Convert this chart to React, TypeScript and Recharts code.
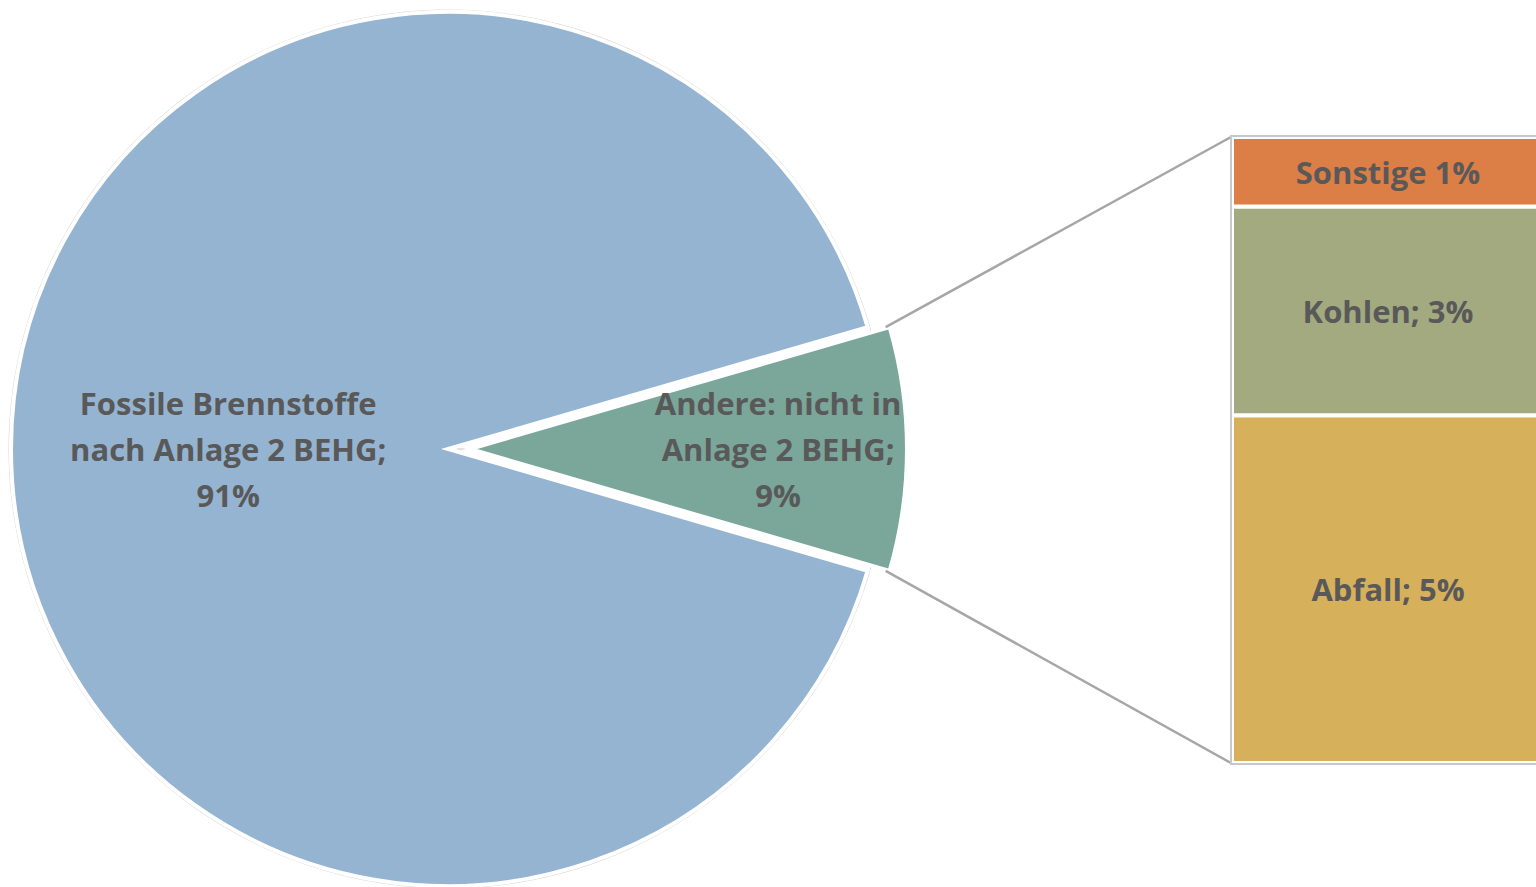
import React from 'react';
import { PieChart, Pie, Cell, BarChart, Bar, XAxis, YAxis, LabelList } from 'recharts';

const pieCategories = ['Fossile Brennstoffe nach Anlage 2 BEHG', 'Andere: nicht in Anlage 2 BEHG'];
const pieValues = [91, 9];
const pieLabelLines = [
  ['Fossile Brennstoffe', 'nach Anlage 2 BEHG;', '91%'],
  ['Andere: nicht in', 'Anlage 2 BEHG;', '9%'],
];
const pieColors = ['#95B4D1', '#7AA79A'];

const barCategories = ['Abfall', 'Kohlen', 'Sonstige'];
const barValues = [5, 3, 1];
const barLabels = ['Abfall; 5%', 'Kohlen; 3%', 'Sonstige 1%'];
const barColors = ['#D7B05C', '#A3AA7F', '#DC7F47'];

const pieData = pieCategories.map((name, i) => ({ name, value: pieValues[i] }));
const barRow: Record<string, number | string> = { name: 'Andere' };
barCategories.forEach((c, i) => { barRow[c] = barValues[i]; });
const barData = [barRow];
const barTotal = barValues.reduce((a, b) => a + b, 0);
const pieTotal = pieValues.reduce((a, b) => a + b, 0);

const W = 1536;
const H = 887;
const CX = 448;
const CY = 449;
const R = 437;
const EXPLODE = 22;
const HALF = (pieValues[1] / pieTotal) * 180;
const START = HALF;
const END = HALF + 360;

const BAR_LEFT = 1232;
const BAR_TOP = 137;
const BAR_BOTTOM = 763;
const BAR_CHART_W = 340;

const FONT = '"Open Sans", Lato, sans-serif';
const FS = 31;
const TEXT = '#595959';

const makeLabel = (which: number, frac: number) => (props: any) => {
  const { cx, cy, midAngle, outerRadius, index } = props;
  if (index !== which) return null;
  const rad = (Math.PI / 180) * midAngle;
  const x = cx + outerRadius * frac * Math.cos(rad);
  const y = cy - outerRadius * frac * Math.sin(rad);
  const lines = pieLabelLines[which];
  return (
    <text x={x} y={y} textAnchor="middle" fill={TEXT} fontFamily={FONT} fontWeight={700} fontSize={FS}>
      {lines.map((l, k) => (
        <tspan key={k} x={x} y={y + (k - 1) * 46 + 12}>{l}</tspan>
      ))}
    </text>
  );
};

export default function App() {
  const rad = (Math.PI / 180) * HALF;
  const gx = CX + EXPLODE + R * Math.cos(rad);
  const gyTop = CY - R * Math.sin(rad);
  const gyBot = CY + R * Math.sin(rad);
  return (
    <div style={{ position: 'absolute', left: 0, top: 0, width: W, height: H, overflow: 'hidden', background: '#fff' }}>
      <div style={{ position: 'absolute', left: 0, top: 0 }}>
        <PieChart width={W} height={H} margin={{ top: 0, right: 0, bottom: 0, left: 0 }}>
          <Pie
            data={[{ name: 'outline', value: 1 }]}
            dataKey="value"
            cx={CX}
            cy={CY}
            outerRadius={R + 2}
            startAngle={0}
            endAngle={360}
            fill="#ffffff"
            stroke="#d6d6d6"
            strokeWidth={1}
            isAnimationActive={false}
            label={false}
            labelLine={false}
          />
          <Pie
            data={pieData}
            dataKey="value"
            cx={CX}
            cy={CY}
            outerRadius={R}
            startAngle={START}
            endAngle={END}
            stroke="#ffffff"
            strokeWidth={4}
            isAnimationActive={false}
            labelLine={false}
            label={makeLabel(0, 0.503)}
          >
            {pieData.map((d, i) => (
              <Cell key={i} fill={i === 0 ? pieColors[0] : 'none'} stroke={i === 0 ? '#ffffff' : 'none'} />
            ))}
          </Pie>
          <Pie
            data={pieData}
            dataKey="value"
            cx={CX + EXPLODE}
            cy={CY}
            outerRadius={R}
            startAngle={START}
            endAngle={END}
            stroke="#ffffff"
            strokeWidth={4}
            isAnimationActive={false}
            labelLine={false}
            label={makeLabel(1, 0.705)}
          >
            {pieData.map((d, i) => (
              <Cell key={i} fill={i === 1 ? pieColors[1] : 'none'} stroke={i === 1 ? '#ffffff' : 'none'} />
            ))}
          </Pie>
        </PieChart>
      </div>
      <div style={{ position: 'absolute', left: BAR_LEFT, top: 0 }}>
        <BarChart
          width={BAR_CHART_W}
          height={H}
          data={barData}
          margin={{ top: BAR_TOP, right: 0, bottom: H - BAR_BOTTOM, left: 0 }}
          barCategoryGap={0}
        >
          <XAxis dataKey="name" hide />
          <YAxis hide domain={[0, barTotal]} />
          {barCategories.map((c, i) => (
            <Bar
              key={c}
              dataKey={c}
              stackId="a"
              fill={barColors[i]}
              stroke="#ffffff"
              strokeWidth={4}
              isAnimationActive={false}
            >
              <LabelList
                dataKey={c}
                position="center"
                content={(p: any) => (
                  <text
                    x={p.x + 156}
                    y={p.y + p.height / 2 + 12}
                    textAnchor="middle"
                    fill={TEXT}
                    fontFamily={FONT}
                    fontWeight={700}
                    fontSize={FS}
                  >
                    {barLabels[i]}
                  </text>
                )}
              />
            </Bar>
          ))}
        </BarChart>
      </div>
      <svg width={W} height={H} style={{ position: 'absolute', left: 0, top: 0, pointerEvents: 'none' }}>
        <line x1={gx - 4} y1={gyTop} x2={BAR_LEFT - 1} y2={BAR_TOP} stroke="#a6a6a6" strokeWidth={2.5} />
        <line x1={gx - 4} y1={gyBot} x2={BAR_LEFT - 1} y2={BAR_BOTTOM} stroke="#a6a6a6" strokeWidth={2.5} />
        <rect x={BAR_LEFT - 1} y={BAR_TOP - 1} width={BAR_CHART_W + 10} height={BAR_BOTTOM - BAR_TOP + 2} fill="none" stroke="#c8c8c8" strokeWidth={2} />
      </svg>
    </div>
  );
}
